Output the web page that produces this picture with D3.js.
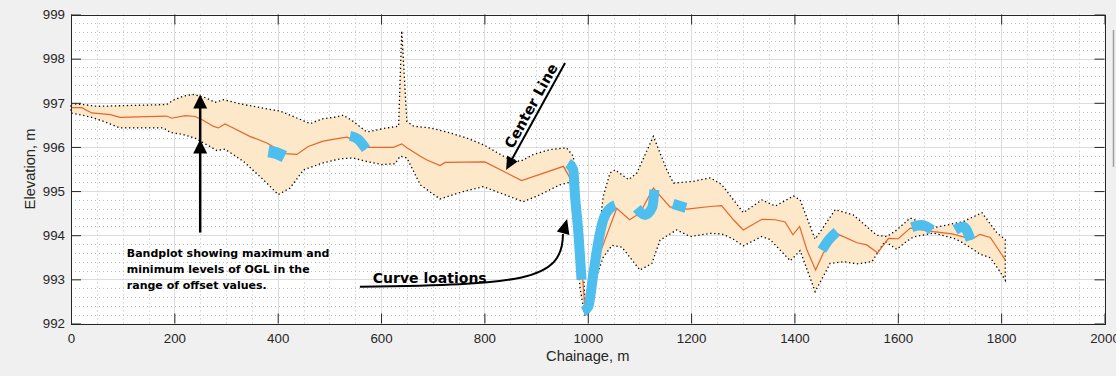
<!DOCTYPE html>
<html>
<head>
<meta charset="utf-8">
<script src="https://cdn.jsdelivr.net/npm/d3@7"></script>
<style>
  body { margin: 0; background: #f0f0f0; }
  svg { display: block; font-family: "Liberation Sans", Arial, sans-serif; }
</style>
</head>
<body>
<svg id="chart" width="1116" height="376"></svg>
<script>
// centre line profile (chainage m, elevation m)
const clChain = [0, 21, 40, 76, 95, 185, 195, 221, 240, 253, 275, 285, 298, 314, 346, 379, 395, 414, 437, 459,
  488, 521, 534, 575, 624, 640, 650, 676, 688, 714, 724, 801, 872, 953, 975, 991, 995, 1024, 1056, 1081,
  1101, 1127, 1159, 1192, 1237, 1259, 1282, 1301, 1337, 1363, 1382, 1397, 1410, 1424, 1441, 1456, 1485, 1521, 1540, 1561,
  1582, 1601, 1624, 1669, 1705, 1743, 1759, 1779, 1795, 1808];
const clElev = [996.89, 996.89, 996.77, 996.73, 996.67, 996.70, 996.65, 996.71, 996.69, 996.62, 996.47, 996.43, 996.52, 996.43, 996.24, 996.09, 995.98, 995.85, 995.83, 996.01,
  996.13, 996.20, 996.22, 995.99, 995.99, 996.07, 995.98, 995.79, 995.71, 995.58, 995.65, 995.66, 995.24, 995.56, 995.10, 992.91, 992.23, 993.60, 994.61, 994.35,
  994.50, 995.07, 994.64, 994.59, 994.65, 994.67, 994.35, 994.12, 994.36, 994.35, 994.30, 994.01, 994.20, 993.67, 993.21, 993.60, 994.02, 993.83, 993.78, 993.60,
  993.93, 993.92, 994.16, 994.08, 994.03, 993.91, 994.02, 993.95, 993.67, 993.44];

// band: max OGL level over the offsets
const maxChain = [0, 24, 50, 185, 198, 217, 237, 259, 279, 295, 334, 385, 405, 463, 488, 514, 527, 546, 572, 611,
  634, 640, 650, 663, 695, 727, 766, 798, 843, 869, 895, 927, 959, 972, 981, 991, 995, 1010, 1020, 1030,
  1043, 1053, 1079, 1095, 1127, 1153, 1166, 1204, 1237, 1259, 1301, 1337, 1363, 1398, 1411, 1440, 1479, 1514, 1559, 1579,
  1598, 1624, 1643, 1666, 1727, 1763, 1792, 1808];
const maxElev = [996.98, 996.96, 996.92, 996.96, 997.06, 997.15, 997.19, 997.12, 997.01, 997.07, 996.96, 996.85, 996.81, 996.53, 996.64, 996.68, 996.72, 996.58, 996.34, 996.43,
  996.47, 998.63, 996.58, 996.47, 996.43, 996.34, 996.20, 996.05, 995.75, 995.67, 995.83, 995.94, 995.98, 995.79, 995.00, 993.30, 992.40, 993.20, 993.90, 994.88,
  995.41, 995.48, 995.26, 995.41, 996.24, 995.48, 995.18, 995.22, 995.30, 995.15, 994.51, 994.80, 994.66, 994.89, 994.80, 993.91, 994.58, 994.46, 994.00, 993.97,
  994.12, 994.39, 994.30, 994.16, 994.31, 994.51, 994.05, 993.90];

// band: min OGL level over the offsets
const minChain = [0, 37, 63, 95, 179, 192, 217, 240, 269, 282, 298, 334, 372, 401, 424, 450, 488, 521, 546, 572,
  601, 627, 637, 650, 676, 714, 759, 798, 875, 901, 946, 966, 975, 985, 995, 1005, 1015, 1030, 1047, 1066,
  1101, 1124, 1140, 1172, 1198, 1237, 1259, 1279, 1301, 1337, 1353, 1392, 1411, 1440, 1469, 1495, 1521, 1550, 1575, 1598,
  1617, 1630, 1669, 1708, 1721, 1743, 1759, 1779, 1798, 1808];
const minElev = [996.77, 996.68, 996.58, 996.43, 996.43, 996.33, 996.28, 996.20, 996.01, 995.92, 995.95, 995.67, 995.26, 994.92, 995.07, 995.48, 995.64, 995.73, 995.75, 995.67,
  995.60, 995.62, 995.79, 995.75, 995.14, 994.82, 994.99, 995.10, 994.76, 994.88, 995.14, 995.20, 994.60, 992.80, 992.15, 992.60, 993.00, 993.50, 993.77, 993.73,
  993.21, 993.36, 993.89, 994.12, 993.97, 994.04, 994.03, 993.93, 993.76, 993.97, 993.90, 993.42, 993.65, 992.72, 993.36, 993.40, 993.35, 993.40, 993.86, 993.68,
  993.86, 993.96, 994.05, 993.93, 993.86, 993.70, 993.57, 993.49, 993.17, 992.98];

// horizontal curve locations
const curveChain = [
  [382, 398, 413],
  [540, 555, 571],
  [962, 972, 975, 982, 988],
  [991, 1001, 1011, 1020, 1030, 1043, 1053],
  [1095, 1111, 1125, 1129],
  [1165, 1190],
  [1453, 1466, 1482],
  [1627, 1646, 1666],
  [1711, 1727, 1741]
];
const curveElev = [
  [995.90, 995.86, 995.78],
  [996.25, 996.18, 995.95],
  [995.63, 995.48, 994.95, 994.04, 992.99],
  [992.27, 992.38, 993.14, 993.82, 994.35, 994.61, 994.68],
  [994.61, 994.46, 994.64, 995.03],
  [994.71, 994.62],
  [993.66, 993.89, 994.08],
  [994.18, 994.23, 994.12],
  [994.12, 994.19, 993.89]
];

const xTicks = [0, 200, 400, 600, 800, 1000, 1200, 1400, 1600, 1800, 2000];
const yTicks = [992, 993, 994, 995, 996, 997, 998, 999];

const svg = d3.select("#chart");
const x = d3.scaleLinear().domain([0, 2000]).range([71, 1104.5]);
const y = d3.scaleLinear().domain([992, 999]).range([323.5, 14.5]);
const px = v => Math.round(x(v)) + 0.5;
const py = v => Math.round(y(v)) + 0.5;

svg.append("rect").attr("width", 1116).attr("height", 376).attr("fill", "#f0f0f0");
svg.append("rect")
  .attr("x", x(0)).attr("y", y(999))
  .attr("width", x(2000) - x(0)).attr("height", y(992) - y(999))
  .attr("fill", "#fff");

// grid
let minorX = d3.range(0, 2001, 50).filter(v => v % 200 != 0);
let minorY = d3.range(0, 36).filter(i => i % 5 != 0).map(i => 992 + i * 0.2);
let grid = svg.append("g");
grid.selectAll(".mx").data(minorX).join("line")
  .attr("x1", px).attr("x2", px).attr("y1", y(999)).attr("y2", y(992))
  .attr("stroke", "#bdbdbd").attr("stroke-dasharray", "1,3");
grid.selectAll(".my").data(minorY).join("line")
  .attr("y1", py).attr("y2", py).attr("x1", x(0)).attr("x2", x(2000))
  .attr("stroke", "#bdbdbd").attr("stroke-dasharray", "1,3");
grid.selectAll(".gx").data(xTicks).join("line")
  .attr("x1", px).attr("x2", px).attr("y1", y(999)).attr("y2", y(992))
  .attr("stroke", "#dcdcdc");
grid.selectAll(".gy").data(yTicks).join("line")
  .attr("y1", py).attr("y2", py).attr("x1", x(0)).attr("x2", x(2000))
  .attr("stroke", "#dcdcdc");

// band
let upper = maxChain.map((c, i) => [x(c), y(maxElev[i])]);
let lower = minChain.map((c, i) => [x(c), y(minElev[i])]);
let bandPts = upper.concat(lower.slice().reverse());
svg.append("path")
  .attr("d", d3.line()(bandPts) + "Z")
  .attr("fill", "#fde8c9")
  .attr("stroke", "#000").attr("stroke-width", 1.3)
  .attr("stroke-dasharray", "1.3,2.7");

// centre line
svg.append("path")
  .attr("d", d3.line()(clChain.map((c, i) => [x(c), y(clElev[i])])))
  .attr("fill", "none").attr("stroke", "#e8642c").attr("stroke-width", 1.2);

// curves
let curveLine = d3.line().curve(d3.curveMonotoneX);
curveChain.forEach((cc, k) => {
  svg.append("path")
    .attr("d", curveLine(cc.map((c, i) => [x(c), y(curveElev[k][i])])))
    .attr("fill", "none").attr("stroke", "#4dbeee")
    .attr("stroke-width", k == 0 ? 12 : 10).attr("stroke-linejoin", "round");
});

// annotations
function arrowHead(tip, ang, len, wid) {
  let ux = Math.cos(ang), uy = Math.sin(ang);
  let bx = tip[0] - ux * len, by = tip[1] - uy * len;
  let pts = [tip, [bx - uy * wid / 2, by + ux * wid / 2], [bx + uy * wid / 2, by - ux * wid / 2]];
  svg.append("path").attr("d", d3.line()(pts) + "Z").attr("fill", "#000");
}

let note = svg.append("g").attr("font-family", "'DejaVu Sans', Verdana, sans-serif")
  .attr("font-weight", "bold").attr("fill", "#000");

// vertical band arrow
let ax = x(250);
note.append("line").attr("x1", ax).attr("x2", ax)
  .attr("y1", y(994.06)).attr("y2", y(997.19) + 10)
  .attr("stroke", "#000").attr("stroke-width", 2.5);
arrowHead([ax, y(997.19)], -Math.PI / 2, 14, 14);
arrowHead([ax, y(996.17)], -Math.PI / 2, 14, 14);

let bandText = ["Bandplot showing maximum and", "minimum levels of OGL in the", "range of offset values."];
note.selectAll(".bt").data(bandText).join("text")
  .attr("x", x(108)).attr("y", (d, i) => y(993.5) + i * 16)
  .attr("font-size", 11).text(d => d);

// centre line arrow
let tail = [x(956), y(997.9)], tip = [x(842), y(995.48)];
let ang = Math.atan2(tip[1] - tail[1], tip[0] - tail[0]);
let hl = 13;
note.append("line")
  .attr("x1", tail[0]).attr("y1", tail[1])
  .attr("x2", tip[0] - Math.cos(ang) * (hl - 2)).attr("y2", tip[1] - Math.sin(ang) * (hl - 2))
  .attr("stroke", "#000").attr("stroke-width", 2);
arrowHead(tip, ang, hl, 12);
let tAng = Math.atan2(tail[1] - tip[1], tail[0] - tip[0]);
let upx = Math.sin(tAng), upy = -Math.cos(tAng);
let tx = tip[0] + Math.cos(tAng) * 21 + upx * 4, ty = tip[1] + Math.sin(tAng) * 21 + upy * 4;
note.append("text")
  .attr("transform", `translate(${tx},${ty}) rotate(${tAng * 180 / Math.PI})`)
  .attr("font-size", 14.5).text("Center Line");

// curve locations arrow
let cStart = [x(559), y(992.83)], cEnd = [x(952), y(994.03)];
let cTip = [x(960), y(994.37)];
let cp = d3.path();
cp.moveTo(cStart[0], cStart[1]);
cp.bezierCurveTo(x(869), y(992.89), x(952), y(992.94), cEnd[0], cEnd[1]);
note.append("path").attr("d", cp.toString())
  .attr("fill", "none").attr("stroke", "#000").attr("stroke-width", 2);
arrowHead(cTip, Math.atan2(cTip[1] - cEnd[1], cTip[0] - cEnd[0]), 15, 13);
note.append("text").attr("x", x(584)).attr("y", y(992.91))
  .attr("font-size", 14).text("Curve loations");

// axes
let axCol = "#262626";
function styleAxis(g) {
  g.select(".domain").remove();
  g.selectAll(".tick line").attr("stroke", axCol);
  g.selectAll("text").attr("fill", axCol).attr("font-size", 13.3)
    .attr("font-family", "'Liberation Sans', Arial, sans-serif");
}
svg.append("g").attr("transform", `translate(0,${y(992)})`)
  .call(d3.axisBottom(x).tickValues(xTicks).tickFormat(d3.format("d"))
    .tickSizeInner(-10).tickSizeOuter(0).tickPadding(10))
  .call(styleAxis);
svg.append("g").attr("transform", `translate(0,${y(999)})`)
  .call(d3.axisTop(x).tickValues(xTicks).tickSizeInner(-10).tickSizeOuter(0).tickFormat(""))
  .call(styleAxis);
svg.append("g").attr("transform", `translate(${x(0)},0)`)
  .call(d3.axisLeft(y).tickValues(yTicks).tickFormat(d3.format("d"))
    .tickSizeInner(-10).tickSizeOuter(0).tickPadding(6))
  .call(styleAxis);
svg.append("g").attr("transform", `translate(${x(2000)},0)`)
  .call(d3.axisRight(y).tickValues(yTicks).tickSizeInner(-10).tickSizeOuter(0).tickFormat(""))
  .call(styleAxis);
svg.append("rect")
  .attr("x", Math.round(x(0)) + 0.5).attr("y", Math.round(y(999)) + 0.5)
  .attr("width", Math.round(x(2000)) - Math.round(x(0))).attr("height", Math.round(y(992)) - Math.round(y(999)))
  .attr("fill", "none").attr("stroke", axCol);

svg.append("text").attr("x", (x(0) + x(2000)) / 2).attr("y", 361)
  .attr("text-anchor", "middle").attr("font-size", 14.7).attr("fill", axCol)
  .text("Chainage, m");
svg.append("text").attr("transform", `translate(35,${(y(992) + y(999)) / 2}) rotate(-90)`)
  .attr("text-anchor", "middle").attr("font-size", 14.7).attr("fill", axCol)
  .text("Elevation, m");

// window splitter at the right edge
svg.append("line").attr("x1", 1113.5).attr("x2", 1113.5).attr("y1", 30).attr("y2", 167)
  .attr("stroke", "#a0a0a0").attr("stroke-width", 1.5);
</script>
</body>
</html>
